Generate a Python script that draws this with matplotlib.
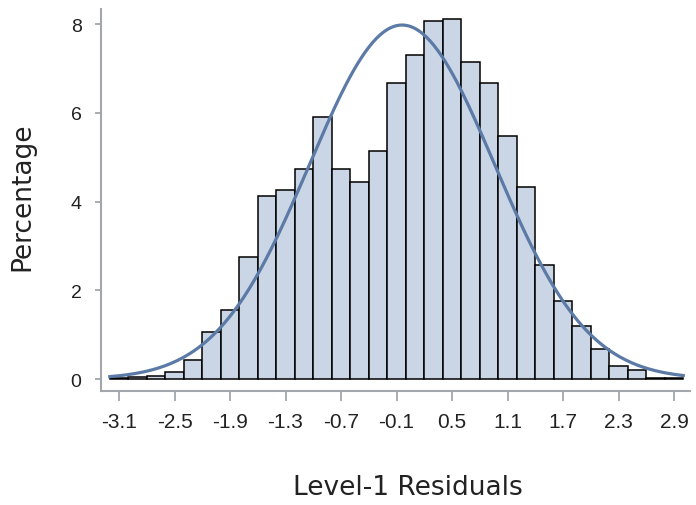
import numpy as np
import matplotlib.pyplot as plt

plt.rcParams['font.family'] = ['Liberation Sans', 'DejaVu Sans']

# histogram of level-1 residuals (percent per bin, bin width 0.2)
midpoints = np.round(np.arange(-3.1, 2.95, 0.2), 1)
percent = [0.02, 0.04, 0.06, 0.16, 0.42, 1.05, 1.55, 2.74, 4.12, 4.27, 4.73,
           5.91, 4.73, 4.43, 5.14, 6.68, 7.30, 8.07, 8.11, 7.15, 6.68, 5.47,
           4.32, 2.58, 1.75, 1.19, 0.68, 0.30, 0.21, 0.02, 0.02]
tick_vals = [-3.1, -2.5, -1.9, -1.3, -0.7, -0.1, 0.5, 1.1, 1.7, 2.3, 2.9]
binw = 0.2

# fitted normal curve parameters
mu = -0.04
sigma = 1.0

fig = plt.figure(figsize=(6.96, 5.06), dpi=100)
ax = fig.add_axes([0.1451, 0.2253, 0.8463, 0.7549])

ax.bar(midpoints, percent, width=binw, color='#cad5e5', edgecolor='black', linewidth=1.1, zorder=2)

xs = np.linspace(-3.2, 3.0, 300)
dens = 100 * binw * np.exp(-0.5 * ((xs - mu) / sigma) ** 2) / (sigma * np.sqrt(2 * np.pi))
ax.plot(xs, dens, color='#5b7aa6', linewidth=2.3, zorder=3)

ax.set_xlim(-3.295, 3.073)
ax.set_ylim(-0.27, 8.34)
ax.set_xticks(tick_vals)
ax.set_xticklabels([f'{v:.1f}' for v in tick_vals])
ax.set_yticks([0, 2, 4, 6, 8])

for s in ['top', 'right']:
    ax.spines[s].set_visible(False)
for s in ['left', 'bottom']:
    ax.spines[s].set_color('#a3a7ab')
    ax.spines[s].set_linewidth(1.5)

ax.tick_params(axis='x', colors='#a3a7ab', width=1.3, length=7, pad=8,
               labelcolor='#222222', labelsize=15)
ax.tick_params(axis='y', colors='#a3a7ab', width=1.3, length=4, pad=10,
               labelcolor='#222222', labelsize=14)

fig.text(408 / 696, 1 - 495 / 506, 'Level-1 Residuals', ha='center', va='baseline',
         fontsize=19, family='DejaVu Sans', color='#222222')
fig.text(22 / 696, 1 - 197 / 506, 'Percentage', ha='center', va='center',
         rotation=90, fontsize=19, family='DejaVu Sans', color='#222222')

fig.savefig('out.png', dpi=100)
